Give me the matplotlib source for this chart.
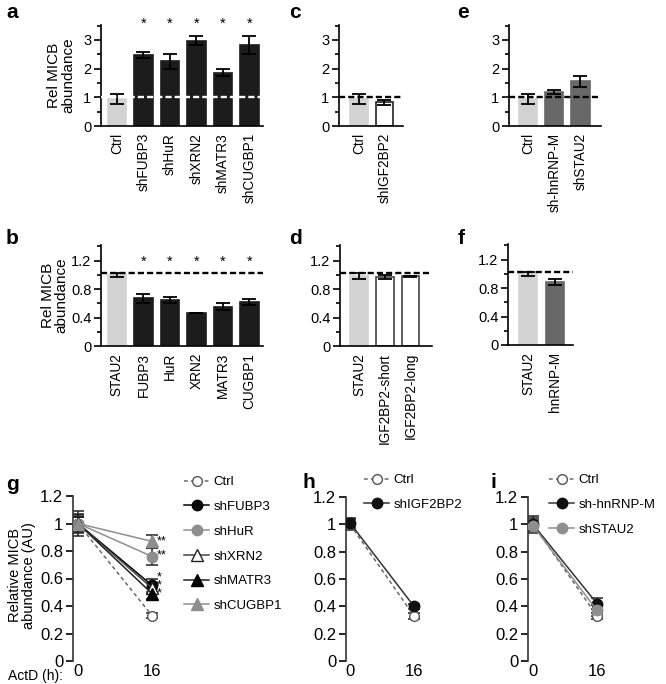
import numpy as np
import matplotlib.pyplot as plt

plt.rcParams['font.family'] = ['Liberation Sans', 'DejaVu Sans']

W, H = 666, 684

# ---- data ----
a_labels = ['Ctrl', 'shFUBP3', 'shHuR', 'shXRN2', 'shMATR3', 'shCUGBP1']
a_vals = [0.95, 2.48, 2.25, 2.97, 1.85, 2.82]
a_errs = [0.17, 0.11, 0.26, 0.16, 0.12, 0.31]

b_labels = ['STAU2', 'FUBP3', 'HuR', 'XRN2', 'MATR3', 'CUGBP1']
b_vals = [1.0, 0.67, 0.65, 0.46, 0.55, 0.62]
b_errs = [0.03, 0.06, 0.04, 0.0, 0.05, 0.04]

c_labels = ['Ctrl', 'shIGF2BP2']
c_vals = [0.95, 0.82]
c_errs = [0.17, 0.1]

d_labels = ['STAU2', 'IGF2BP2-short', 'IGF2BP2-long']
d_vals = [0.98, 0.97, 0.98]
d_errs = [0.04, 0.03, 0.01]

e_labels = ['Ctrl', 'sh-hnRNP-M', 'shSTAU2']
e_vals = [0.95, 1.19, 1.56]
e_errs = [0.17, 0.06, 0.2]

f_labels = ['STAU2', 'hnRNP-M']
f_vals = [1.0, 0.89]
f_errs = [0.03, 0.04]

t = [0, 16]
g_names = ['Ctrl', 'shFUBP3', 'shHuR', 'shXRN2', 'shMATR3', 'shCUGBP1']
g_vals = [[1.0, 0.33], [1.0, 0.55], [1.0, 0.76], [1.0, 0.53], [1.0, 0.49], [1.0, 0.87]]
g_errs = [[0.05, 0.02], [0.07, 0.05], [0.09, 0.06], [0.05, 0.04], [0.05, 0.04], [0.06, 0.05]]
# significance marks at 16 h: two double stars, then a stacked group of three
g_stars = ['**', '**', '*\n*\n*']
g_star_y = [0.87, 0.77, 0.55]

h_names = ['Ctrl', 'shIGF2BP2']
h_vals = [[1.0, 0.33], [1.01, 0.40]]
h_errs = [[0.04, 0.02], [0.04, 0.02]]

i_names = ['Ctrl', 'sh-hnRNP-M', 'shSTAU2']
i_vals = [[1.0, 0.33], [1.0, 0.42], [0.99, 0.37]]
i_errs = [[0.05, 0.02], [0.06, 0.04], [0.04, 0.04]]

LIGHT = '#d2d2d2'
DARK = '#1c1c1c'
MID = '#686868'

fig = plt.figure(figsize=(W / 100, H / 100), dpi=100)


def px_axes(x0, y0, x1, y1):
    return fig.add_axes([x0 / W, 1 - y1 / H, (x1 - x0) / W, (y1 - y0) / H])


def bar_panel(box, labels, vals, errs, faces, edges, xlim, ylim, major, major_lbl, minor,
              dash_color, ylabel_x=None, stars=None, star_y=None):
    ax = px_axes(*box)
    x = np.arange(len(vals))
    ax.bar(x, vals, width=0.69, color=faces, edgecolor=edges, linewidth=1.2, zorder=2)
    ax.errorbar(x, vals, yerr=errs, fmt='none', ecolor='black', elinewidth=1.3,
                capsize=5, capthick=1.3, zorder=3)
    ax.axhline(1.02, color=dash_color, lw=1.7, ls=(0, (2.6, 1.3)), zorder=4)
    ax.set_xlim(*xlim)
    ax.set_ylim(*ylim)
    ax.set_yticks(major)
    ax.set_yticklabels(major_lbl, fontsize=10.5)
    ax.set_yticks(minor, minor=True)
    ax.set_xticks(x)
    ax.set_xticklabels(labels, rotation=90, fontsize=9.8)
    ax.tick_params(axis='x', length=0, pad=5)
    ax.tick_params(axis='y', which='major', length=5, width=1.2, pad=2)
    ax.tick_params(axis='y', which='minor', length=3, width=1.2)
    for s in ['top', 'right']:
        ax.spines[s].set_visible(False)
    for s in ['left', 'bottom']:
        ax.spines[s].set_linewidth(1.2)
    if ylabel_x is not None:
        ax.set_ylabel('Rel MICB\nabundance', fontsize=11, linespacing=1.0)
        ax.yaxis.set_label_coords(ylabel_x, 0.5)
    if stars:
        for xi in stars:
            ax.text(xi, star_y, '*', ha='center', va='center', fontsize=10.5, clip_on=False)
    return ax


a_major = [0, 1, 2, 3]
a_minor = [0.5, 1.5, 2.5, 3.5]
b_major = [0, 0.4, 0.8, 1.2]
b_lbl = ['0', '0.4', '0.8', '1.2']
b_minor = [0.2, 0.6, 1.0, 1.4]

bar_panel((101, 25, 263, 126), a_labels, a_vals, a_errs,
          [LIGHT] + [DARK] * 5, [LIGHT] + [DARK] * 5, (-0.6, 5.51), (0, 3.52),
          a_major, [str(v) for v in a_major], a_minor, 'white', ylabel_x=-0.16,
          stars=[1, 2, 3, 4, 5], star_y=3.55)
bar_panel((101, 245, 263, 346), b_labels, b_vals, b_errs,
          [LIGHT] + [DARK] * 5, [LIGHT] + [DARK] * 5, (-0.6, 5.51), (0, 1.42),
          b_major, b_lbl, b_minor, 'black', ylabel_x=-0.2,
          stars=[1, 2, 3, 4, 5], star_y=1.18)
bar_panel((339, 25, 403, 126), c_labels, c_vals, c_errs,
          [LIGHT, 'white'], [LIGHT, '#222222'], (-0.78, 1.73), (0, 3.52),
          a_major, [str(v) for v in a_major], a_minor, 'black')
bar_panel((509, 25, 601, 126), e_labels, e_vals, e_errs,
          [LIGHT, MID, MID], [LIGHT, MID, MID], (-0.72, 2.78), (0, 3.52),
          a_major, [str(v) for v in a_major], a_minor, 'black')
bar_panel((340, 245, 432, 346), d_labels, d_vals, d_errs,
          [LIGHT, 'white', 'white'], [LIGHT, '#444444', '#444444'], (-0.74, 2.84), (0, 1.42),
          b_major, b_lbl, b_minor, 'black')
bar_panel((508, 244, 573, 345), f_labels, f_vals, f_errs,
          [LIGHT, MID], [LIGHT, MID], (-0.74, 1.66), (0, 1.42),
          b_major, b_lbl, b_minor, 'black')

# line styles
GREY = '#8e8e8e'
styles = {
    'Ctrl': dict(color='#6a6a6a', ls=(0, (2.5, 2)), marker='o', mfc='white', mec='#555555', ms=7),
    'shFUBP3': dict(color='black', ls='-', marker='o', mfc='black', mec='black', ms=7.5),
    'shHuR': dict(color=GREY, ls='-', marker='o', mfc=GREY, mec=GREY, ms=7.5),
    'shXRN2': dict(color='#444444', ls='-', marker='^', mfc='white', mec='#222222', ms=9),
    'shMATR3': dict(color='#222222', ls='-', marker='^', mfc='black', mec='black', ms=8),
    'shCUGBP1': dict(color=GREY, ls='-', marker='^', mfc=GREY, mec=GREY, ms=9),
    'shIGF2BP2': dict(color='#333333', ls='-', marker='o', mfc='#111111', mec='#111111', ms=7.5),
    'sh-hnRNP-M': dict(color='#333333', ls='-', marker='o', mfc='#111111', mec='#111111', ms=7.5),
    'shSTAU2': dict(color=GREY, ls='-', marker='o', mfc=GREY, mec=GREY, ms=7.5),
}


def line_panel(box, xlim, names, vals, errs, legend_xy):
    ax = px_axes(*box)
    for name, y, e in zip(names, vals, errs):
        st = styles[name]
        ax.errorbar(t, y, yerr=e, fmt='none', ecolor='#222222', elinewidth=1.1,
                    capsize=4, capthick=1.1, zorder=2)
        ax.plot(t, y, lw=1.1, label=name, zorder=3, **st)
    ax.set_xlim(*xlim)
    ax.set_ylim(0, 1.2)
    ax.set_yticks([0, 0.2, 0.4, 0.6, 0.8, 1.0, 1.2])
    ax.set_yticklabels(['0', '0.2', '0.4', '0.6', '0.8', '1', '1.2'], fontsize=12)
    ax.set_xticks(t)
    ax.set_xticklabels(['0', '16'], fontsize=12)
    ax.tick_params(axis='x', length=0, pad=2)
    ax.tick_params(axis='y', length=5, width=1.2, pad=2)
    for s in ['top', 'right', 'bottom']:
        ax.spines[s].set_visible(False)
    ax.spines['left'].set_linewidth(1.2)
    ax.spines['left'].set_color('#333333')
    ax.legend(loc='upper left', bbox_to_anchor=(legend_xy[0] / W, 1 - legend_xy[1] / H),
              bbox_transform=fig.transFigure, frameon=False, fontsize=9.5,
              handlelength=1.9, handletextpad=0.35, labelspacing=0.95,
              borderpad=0, borderaxespad=0)
    return ax


ax_g = line_panel((73, 496, 165, 661), (-1.08, 18.8), g_names, g_vals, g_errs, (184, 476))
ax_g.set_ylabel('Relative MICB\nabundance (AU)', fontsize=10.5, linespacing=1.0)
ax_g.yaxis.set_label_coords(-0.4, 0.52)
for s, y in zip(g_stars, g_star_y):
    ax_g.text(17.0, y, s, ha='left', va='center', fontsize=9, linespacing=0.55)
fig.text(8 / W, 1 - 676 / H, 'ActD (h):', fontsize=10, ha='left', va='center')

line_panel((346, 497, 430, 661), (-1.0, 20.0), h_names, h_vals, h_errs, (364, 474))
line_panel((528, 497, 612, 661), (-1.25, 19.75), i_names, i_vals, i_errs, (549, 474))

# panel letters
letters = [('a', 6, 18), ('b', 6, 244), ('c', 289, 18), ('e', 457, 18),
           ('d', 289, 244), ('f', 458, 244), ('g', 6, 490), ('h', 303, 488), ('i', 491, 488)]
for txt, x, y in letters:
    fig.text(x / W, 1 - y / H, txt, fontsize=15, fontweight='bold', ha='left', va='baseline')

fig.savefig('out.png', dpi=100)
